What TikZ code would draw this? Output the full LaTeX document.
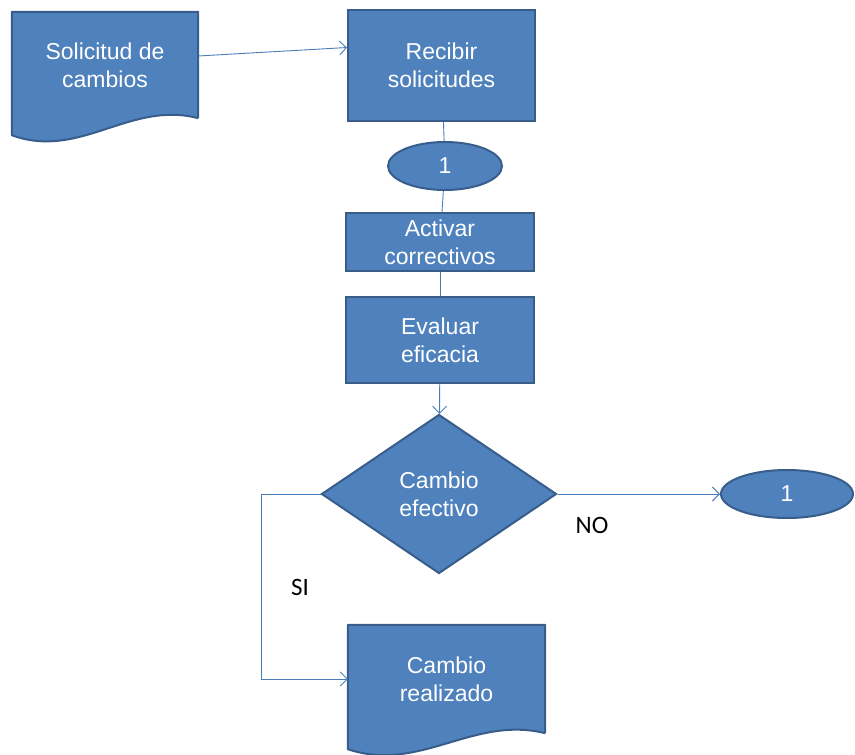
\documentclass[tikz,border=0pt]{standalone}
\usepackage{fontspec}
\setmainfont{Liberation Sans}
\newfontfamily\labelfont{Carlito}
\usepackage{tikz}
\usetikzlibrary{shapes.geometric,arrows.meta,calc,positioning}
\pgfdeclarelayer{background}
\pgfsetlayers{background,main}

\definecolor{boxfill}{RGB}{79,129,189}
\definecolor{boxline}{RGB}{56,93,138}
\definecolor{flowline}{RGB}{74,126,187}

\tikzset{
  base/.style={text=white, font=\fontsize{23}{28}\selectfont, align=center, inner sep=0pt},
  proc/.style={base, rectangle, draw=boxline, fill=boxfill, line width=2pt},
  docbox/.style={base, rectangle},
  docshape/.style={draw=boxline, fill=boxfill, line width=2pt, line join=round},
  conn/.style={base, ellipse, draw=boxline, fill=boxfill, line width=2pt},
  decide/.style={base, diamond, draw=boxline, fill=boxfill, line width=2pt},
  flow/.style={draw=flowline, line width=0.9pt, -{Straight Barb[length=7pt,width=14pt]}},
  link/.style={draw=flowline, line width=0.9pt},
  answer/.style={font=\labelfont\fontsize{25}{28}\selectfont, text=black}
}

\begin{document}
\begin{tikzpicture}[x=1pt,y=-1pt]
	\useasboundingbox (0,0) rectangle (855,755);

	\node [docbox, minimum width=186pt, minimum height=106pt] (solicitud) at (105,65) {Solicitud de\\cambios};
	\node [proc, minimum width=187pt, minimum height=111pt] (recibir) at (441.5,65.5) {Recibir\\solicitudes};
	\node [conn, minimum width=114pt, minimum height=48pt] (uno) at (445,166) {1};
	\node [proc, minimum width=188pt, minimum height=58pt] (activar) at (440,242) {Activar\\correctivos};
	\node [proc, minimum width=188pt, minimum height=86pt] (evaluar) at (440,340) {Evaluar\\eficacia};
	\node [decide, minimum width=235pt, minimum height=159pt] (cambio) at (439,494) {Cambio\\efectivo};
	\node [conn, minimum width=132pt, minimum height=48pt] (unob) at (787,494) {1};
	\node [docbox, minimum width=197pt, minimum height=108pt] (realizado) at (446.5,679) {Cambio\\realizado};

	% document shapes with wavy bottom
	\begin{pgfonlayer}{background}
		\draw[docshape] (solicitud.south east) -- (solicitud.north east) -- (solicitud.north west)
			-- ($(solicitud.south west)+(0,17)$)
			.. controls ($(solicitud.south west)+(68,42)$) and ($(solicitud.south east)+(-68,-18)$) .. (solicitud.south east);
		\draw[docshape] (realizado.south east) -- (realizado.north east) -- (realizado.north west)
			-- ($(realizado.south west)+(0,16)$)
			.. controls ($(realizado.south west)+(72,40)$) and ($(realizado.south east)+(-72,-18)$) .. (realizado.south east);
	\end{pgfonlayer}

	\draw[flow] ([yshift=9pt]solicitud.east) -- ([yshift=18pt]recibir.west);
	\draw[link] (recibir) -- (uno);
	\draw[link] (uno) -- (activar);
	\draw[link] (activar) -- (evaluar);
	\draw[flow] (evaluar) -- (cambio);
	\draw[flow] (cambio.east) -- (unob.west);
	\draw[flow] (cambio.west) -- ++(-59,0) |- (realizado.west);

	\node [answer] (no) at (592,525) {NO};
	\node [answer] (si) at (300,587) {SI};
\end{tikzpicture}
\end{document}
